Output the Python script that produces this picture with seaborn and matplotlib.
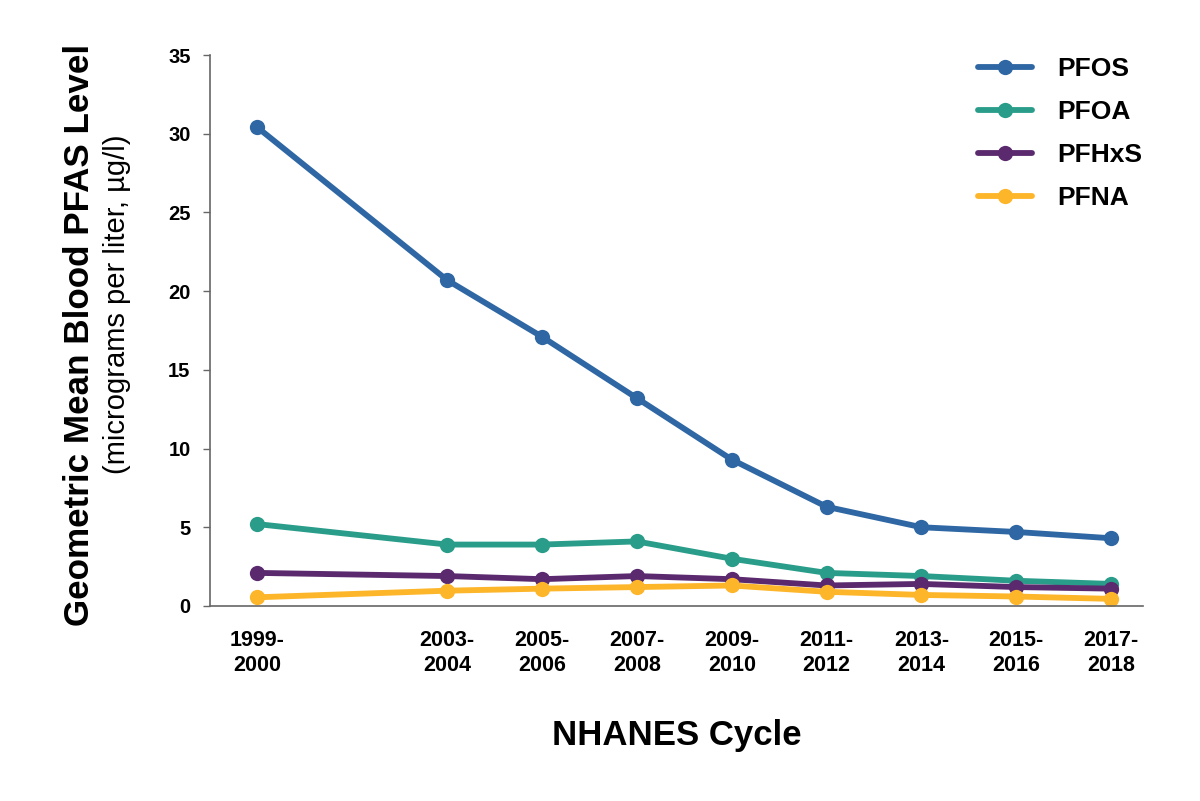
import matplotlib
matplotlib.use("Agg")
import matplotlib.pyplot as plt
import seaborn as sns
import pandas as pd

# NHANES cycles (start year used as position on x axis)
cycle_start = [1999, 2003, 2005, 2007, 2009, 2011, 2013, 2015, 2017]
cycle_labels = ["1999-\n2000", "2003-\n2004", "2005-\n2006", "2007-\n2008", "2009-\n2010",
                "2011-\n2012", "2013-\n2014", "2015-\n2016", "2017-\n2018"]

# geometric mean blood levels (ug/l)
pfos = [30.4, 20.7, 17.1, 13.2, 9.3, 6.3, 5.0, 4.7, 4.3]
pfoa = [5.2, 3.9, 3.9, 4.1, 3.0, 2.1, 1.9, 1.6, 1.4]
pfhxs = [2.1, 1.9, 1.7, 1.9, 1.7, 1.3, 1.4, 1.2, 1.1]
pfna = [0.55, 0.97, 1.1, 1.2, 1.3, 0.9, 0.7, 0.6, 0.45]

chemicals = ["PFOS", "PFOA", "PFHxS", "PFNA"]
colors = ["#2e67a3", "#2a9d8a", "#5b2a6e", "#fdb52a"]


def build_frame():
    rows = []
    for name, vals in zip(chemicals, [pfos, pfoa, pfhxs, pfna]):
        for yr, v in zip(cycle_start, vals):
            rows.append({"Cycle": yr, "Level": v, "Chemical": name})
    return pd.DataFrame(rows)


def main():
    df = build_frame()
    sns.set_style("white")
    plt.rcParams["font.family"] = ["Liberation Sans", "DejaVu Sans"]
    for key in ["text.color", "axes.labelcolor", "xtick.color", "ytick.color"]:
        plt.rcParams[key] = "black"

    fig = plt.figure(figsize=(12, 8.01), dpi=100)
    ax = fig.add_axes([0.175, 0.2435, 0.7775, 0.6878])

    sns.lineplot(data=df, x="Cycle", y="Level", hue="Chemical", hue_order=chemicals,
                 palette=colors, marker="o", markersize=11, markeredgewidth=0,
                 linewidth=4.2, ax=ax)

    ax.set_xlim(1998.0, 2017.67)
    ax.set_ylim(0, 35)
    ax.set_yticks(range(0, 36, 5))
    ax.set_xticks(cycle_start)
    ax.set_xticklabels(cycle_labels, fontsize=15.5, fontweight="bold", linespacing=1.3)
    ax.tick_params(axis="x", length=0, pad=17)
    ax.tick_params(axis="y", length=5, width=1, color="#666666", labelsize=14.5, pad=9,
                   left=True, direction="out")
    for lab in ax.get_yticklabels():
        lab.set_fontweight("bold")

    sns.despine(ax=ax)
    for side in ["left", "bottom"]:
        ax.spines[side].set_color("#666666")
        ax.spines[side].set_linewidth(1.2)

    ax.set_xlabel("")
    ax.set_ylabel("")
    fig.text(0.564, 0.082, "NHANES Cycle", ha="center", va="center",
             fontsize=25, fontweight="bold")
    fig.text(0.066, 0.5824, "Geometric Mean Blood PFAS Level", rotation=90,
             ha="center", va="center", fontsize=25.2, fontweight="bold")
    fig.text(0.0975, 0.62, "(micrograms per liter, \u00b5g/l)", rotation=90,
             ha="center", va="center", fontsize=21)

    leg = ax.legend(loc="upper left", bbox_to_anchor=(978 / 1200, 1 - 57 / 801),
                    bbox_transform=fig.transFigure, frameon=False, borderpad=0,
                    borderaxespad=0, fontsize=19, handlelength=2.05,
                    labelspacing=0.72, handletextpad=0.95)
    for t in leg.get_texts():
        t.set_fontweight("bold")

    fig.savefig("out.png", dpi=100)


if __name__ == "__main__":
    main()
